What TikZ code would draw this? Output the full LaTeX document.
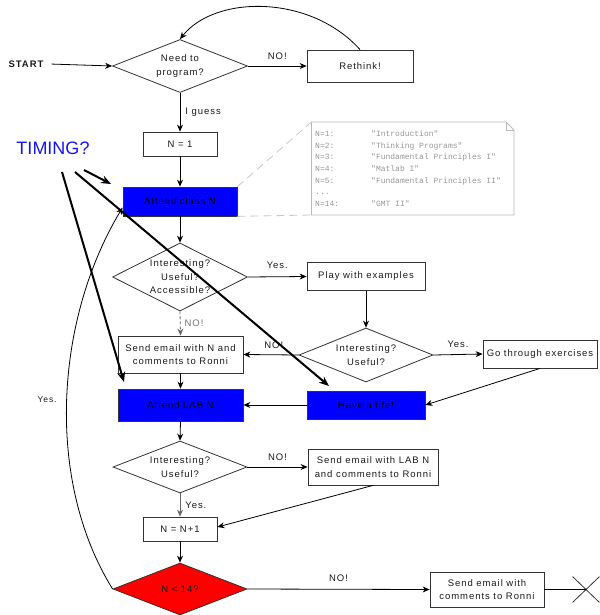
\documentclass[tikz,border=0pt]{standalone}
\usepackage{fontspec}
\setmainfont{Liberation Sans}
\newfontfamily\dfont[LetterSpace=10]{Liberation Sans}
\newfontfamily\notefont{Liberation Mono}
\usetikzlibrary{shapes.geometric,shapes.misc,arrows.meta}
\definecolor{notegray}{RGB}{150,150,150}
\definecolor{notebord}{RGB}{185,185,185}
\definecolor{dashgray}{RGB}{200,200,200}
\definecolor{timeblue}{RGB}{20,20,240}
\begin{document}
\begin{tikzpicture}[x=1pt,y=-1pt,
  every node/.style={font=\dfont\fontsize{9.5}{13.5}\selectfont, text=black!90},
  box/.style={draw=black!80, line width=0.8pt, rectangle, inner sep=0pt, align=center},
  bluebox/.style={box, fill=blue, text=black},
  dia/.style={draw=black!80, line width=0.8pt, diamond, inner sep=0pt, align=center},
  arr/.style={draw=black, line width=0.8pt, -{Stealth[length=7pt,width=6pt]}},
  grayarr/.style={arr, draw=black!60},
  bigarr/.style={draw=black, line width=2pt, -{Stealth[length=10pt,width=8pt]}},
  lbl/.style={inner sep=0pt}
]
\useasboundingbox (0,0) rectangle (599,615);

% nodes
\node[lbl, font=\dfont\bfseries\fontsize{9.5}{11}\selectfont, inner xsep=6pt] (start) at (26,64) {START};
\node[dia, minimum width=135pt, minimum height=53pt, aspect=2.55] (d1) at (180,66) {Need to\\program?};
\node[box, minimum width=106pt, minimum height=32pt] (reth) at (360,66) {Rethink!};
\node[box, minimum width=74pt, minimum height=24pt] (n1) at (180,144) {N = 1};
\node[bluebox, minimum width=114pt, minimum height=29pt] (att) at (180,201.5) {Attend class N};
\node[dia, minimum width=135pt, minimum height=68pt, aspect=2] (d2) at (180,277) {Interesting?\\Useful?\\Accessible?};
\node[box, minimum width=118pt, minimum height=28pt] (play) at (366,276.5) {Play with examples};
\node[dia, minimum width=134pt, minimum height=54pt, aspect=2.5] (d3) at (366,355) {Interesting?\\Useful?};
\node[box, minimum width=114pt, minimum height=28pt] (ex) at (540,354) {Go through exercises};
\node[box, minimum width=125pt, minimum height=37pt] (em1) at (180.5,354.5) {Send email with N and\\comments to Ronni};
\node[bluebox, minimum width=125pt, minimum height=32pt] (lab) at (180.5,405) {Attend LAB N};
\node[bluebox, minimum width=118pt, minimum height=28pt] (life) at (366,405) {Have a life!};
\node[dia, minimum width=134pt, minimum height=52pt, aspect=2.58] (d4) at (180,467) {Interesting?\\Useful?};
\node[box, minimum width=130pt, minimum height=36pt] (em2) at (373,467) {Send email with LAB N\\and comments to Ronni};
\node[box, minimum width=74pt, minimum height=24pt] (n2) at (180,529) {N = N+1};
\node[dia, fill=red, minimum width=134pt, minimum height=52pt, aspect=2.58] (d5) at (180,589) {N < 14?};
\node[box, minimum width=114pt, minimum height=35pt] (fin) at (487,589.5) {Send email with\\comments to Ronni};
\node[draw=black!80, line width=0.8pt, cross out, minimum width=26pt, minimum height=25pt, inner sep=0pt] (xx) at (586,589.5) {};

% note
\coordinate (ntl) at (311.5,122);
\coordinate (nbl) at (311.5,215);
\draw[notebord, line width=0.8pt] (ntl) -- (506,122) -- (514,130) -- (514,215) -- (nbl) -- cycle;
\draw[notebord, line width=0.6pt] (506,122) -- (506,130) -- (514,130);
\node[lbl, anchor=north west, align=left, text=notegray, font=\notefont\fontsize{8}{11.7}\selectfont] (note) at (315,130.5)
 {\makebox[56pt][l]{N=1:}"Introduction"\\
  \makebox[56pt][l]{N=2:}"Thinking Programs"\\
  \makebox[56pt][l]{N=3:}"Fundamental Principles I"\\
  \makebox[56pt][l]{N=4:}"Matlab I"\\
  \makebox[56pt][l]{N=5:}"Fundamental Principles II"\\
  ...\\
  \makebox[56pt][l]{N=14:}"GMT II"};
\draw[dashgray, line width=0.8pt, dash pattern=on 8pt off 5pt] (att.north east) -- (ntl);
\draw[dashgray, line width=0.8pt, dash pattern=on 8pt off 5pt] (att.south east) -- (nbl);

% connectors
\draw[arr, shorten <=2pt] (start.east) -- (d1.west);
\draw[arr] (d1.east) -- node[lbl, above=6pt] (l1) {NO!} (reth.west);
\draw[arr] (reth.north) .. controls (310,-6) and (215,-5) .. (d1.north);
\draw[arr] (d1.south) -- node[lbl, right=5pt] (l2) {I guess} (n1.north);
\draw[arr] (n1.south) -- (att.north);
\draw[arr] (att.south) -- (d2.north);
\draw[arr] (d2.east) -- node[lbl, above=8pt, pos=0.5] (l3) {Yes.} (play.west);
\draw[grayarr, densely dashed] (d2.south) -- node[lbl, right=4pt, text=black!55] (l4) {NO!} (em1.north);
\draw[arr] (play.south) -- (d3.north);
\draw[arr] (d3.east) -- node[lbl, above=7pt] (l5) {Yes.} (ex.west);
\draw[arr] (d3.west) -- node[lbl, above=6pt, pos=0.45] (l6) {NO!} (em1.east);
\draw[arr] (ex.south) -- (life.east);
\draw[arr] (em1.south) -- (lab.north);
\draw[arr] (life.west) -- (lab.east);
\draw[arr] (lab.south) -- (d4.north);
\draw[arr] (d4.east) -- node[lbl, above=6pt] (l7) {NO!} (em2.west);
\draw[grayarr] (d4.south) -- node[lbl, right=5pt] (l8) {Yes.} (n2.north);
\draw[arr] (em2.south) -- ([yshift=2pt]n2.east);
\draw[arr] (n2.south) -- (d5.north);
\draw[arr] (d5.east) -- node[lbl, above=7pt] (l9) {NO!} (fin.west);
\draw[draw=black, line width=0.8pt] (fin.east) -- (xx.center);
\draw[arr] (d5.west) .. controls (45,480) and (55,320) .. node[lbl, pos=0.5, left=10pt, font=\dfont\fontsize{8.5}{10}\selectfont] (l10) {Yes.} ([yshift=-6pt]att.west);

% timing annotation
\node[lbl, text=timeblue, font=\fontsize{18}{20}\selectfont] (timing) at (53,148) {TIMING?};
\coordinate (t1s) at (84,170);
\coordinate (t1e) at (111,184);
\coordinate (t2s) at (75,172);
\coordinate (t2e) at (329,386);
\coordinate (t3s) at (62,172);
\coordinate (t3e) at (124,382);
\draw[bigarr] (t1s) -- (t1e);
\draw[bigarr] (t2s) -- (t2e);
\draw[bigarr] (t3s) -- (t3e);
\end{tikzpicture}
\end{document}
